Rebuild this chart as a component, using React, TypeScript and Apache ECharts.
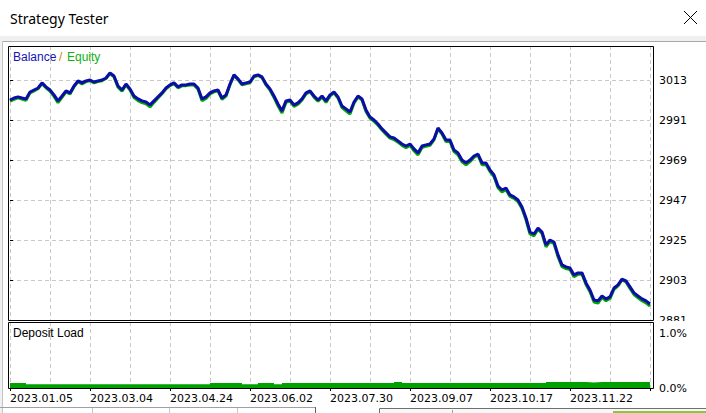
import React, { useEffect, useRef } from 'react';
import * as echarts from 'echarts';

// Balance curve, one value per trade step (x = 0..160)
const balance = [
  3002.0, 3003.1, 3003.7, 3003.1, 3002.6, 3006.4, 3007.5, 3008.6, 3011.4, 3009.2,
  3007.5, 3004.8, 3001.5, 3004.2, 3007.0, 3005.9, 3009.7, 3012.5, 3011.4, 3012.5,
  3013.0, 3011.9, 3012.5, 3013.0, 3014.1, 3016.9, 3015.2, 3009.7, 3007.5, 3010.8,
  3008.1, 3004.2, 3002.6, 3001.5, 3000.9, 2999.3, 3001.5, 3003.7, 3005.9, 3008.6,
  3010.3, 3011.4, 3009.2, 3010.3, 3010.3, 3010.8, 3010.8, 3008.6, 3002.6, 3003.7,
  3005.9, 3007.0, 3007.5, 3003.1, 3004.8, 3010.8, 3015.8, 3013.6, 3010.8, 3011.4,
  3011.9, 3015.2, 3015.8, 3014.7, 3010.8, 3008.1, 3004.2, 2999.8, 2996.0, 3001.5,
  3002.0, 2999.3, 3000.4, 3002.6, 3005.9, 3007.0, 3004.2, 3002.0, 3004.2, 3001.5,
  3004.8, 3006.4, 3003.7, 2998.7, 2997.1, 2995.4, 3000.9, 3004.2, 3002.6, 2996.5,
  2992.7, 2991.0, 2988.8, 2986.1, 2983.9, 2981.7, 2981.1, 2979.5, 2977.8, 2976.7,
  2977.8, 2975.1, 2972.9, 2976.7, 2977.3, 2977.8, 2980.6, 2986.6, 2983.9, 2980.0,
  2980.0, 2974.5, 2972.9, 2969.0, 2967.4, 2969.0, 2971.2, 2972.3, 2967.4, 2967.4,
  2963.5, 2960.8, 2954.7, 2952.5, 2953.6, 2949.8, 2948.7, 2947.0, 2943.2, 2937.1,
  2929.4, 2928.3, 2931.6, 2929.4, 2922.3, 2925.0, 2923.9, 2916.8, 2911.3, 2910.2,
  2909.6, 2905.8, 2906.9, 2906.9, 2901.4, 2897.5, 2892.0, 2891.5, 2894.2, 2892.6,
  2893.7, 2898.6, 2900.3, 2903.5, 2902.5, 2899.2, 2895.9, 2894.2, 2892.6, 2891.5,
  2889.8,
];

// How far equity sits below balance at each step
const equityGap = [
  0.6, 0.7, 0.5, 0.6, 0.8, 0.5, 0.5, 0.4, 0.4, 0.5,
  0.6, 0.8, 1.0, 0.7, 0.5, 0.6, 0.4, 0.4, 0.5, 0.4,
  0.4, 0.5, 0.4, 0.4, 0.3, 0.4, 0.5, 0.7, 0.6, 0.5,
  0.6, 0.8, 0.9, 0.9, 1.0, 1.1, 0.8, 0.6, 0.5, 0.4,
  0.4, 0.4, 0.5, 0.5, 0.4, 0.5, 0.5, 0.6, 1.0, 0.8,
  0.6, 0.5, 0.5, 0.8, 0.7, 0.4, 0.3, 0.4, 0.5, 0.5,
  0.4, 0.4, 0.3, 0.4, 0.5, 0.6, 0.8, 1.0, 1.1, 0.7,
  0.6, 0.8, 0.7, 0.6, 0.5, 0.4, 0.6, 0.7, 0.6, 0.8,
  0.6, 0.5, 0.6, 0.9, 1.0, 1.1, 0.7, 0.5, 0.6, 0.8,
  0.8, 0.7, 0.7, 0.6, 0.7, 0.7, 0.8, 0.7, 0.8, 0.9,
  0.8, 1.0, 1.1, 0.8, 0.7, 0.7, 0.5, 0.4, 0.6, 0.8,
  0.7, 0.9, 1.0, 1.0, 1.1, 0.9, 0.7, 0.7, 1.0, 0.9,
  0.8, 0.9, 1.0, 1.1, 0.9, 0.8, 0.8, 0.8, 0.9, 1.0,
  1.1, 1.0, 0.7, 0.8, 1.1, 0.8, 0.9, 1.0, 1.0, 0.9,
  0.8, 1.0, 0.8, 0.7, 0.9, 1.0, 1.1, 1.2, 0.8, 1.0,
  0.9, 0.7, 0.5, 0.5, 0.6, 0.8, 0.9, 1.0, 1.0, 1.1,
  1.2,
];

// Deposit load (%), one value every 2 steps (x = 0, 2, ..., 160)
const depositLoad = [
  0.09, 0.09, 0.07, 0.07, 0.07, 0.07, 0.07, 0.07, 0.07, 0.07,
  0.07, 0.07, 0.07, 0.07, 0.07, 0.07, 0.07, 0.07, 0.07, 0.07,
  0.07, 0.07, 0.07, 0.07, 0.07, 0.09, 0.09, 0.09, 0.09, 0.07,
  0.07, 0.09, 0.09, 0.07, 0.09, 0.09, 0.09, 0.09, 0.09, 0.09,
  0.09, 0.09, 0.09, 0.09, 0.09, 0.09, 0.09, 0.09, 0.11, 0.09,
  0.09, 0.09, 0.09, 0.09, 0.09, 0.09, 0.09, 0.09, 0.09, 0.09,
  0.09, 0.09, 0.09, 0.09, 0.09, 0.09, 0.09, 0.11, 0.11, 0.11,
  0.11, 0.11, 0.10, 0.11, 0.11, 0.11, 0.11, 0.11, 0.11, 0.11,
  0.11,
];

const dateLabels = [
  '2023.01.05', '2023.03.04', '2023.04.24', '2023.06.02',
  '2023.07.30', '2023.09.07', '2023.10.17', '2023.11.22',
];

const yMin = 2881;
const yStep = 22;
const yMax = 3031.7;
const loadMax = 1.2;

export default function App() {
  const ref = useRef<HTMLDivElement>(null);

  useEffect(() => {
    const chart = echarts.init(ref.current!, null, { renderer: 'svg' });
    const balData = balance.map((v, i) => [i, v]);
    const eqData = balance.map((v, i) => [i, +(v - equityGap[i]).toFixed(2)]);
    const depData = depositLoad.map((v, i) => [i * 2, v]);
    const dash = { color: '#c8c8c8', type: [4, 3] as any, width: 1 };
    const numFont = { fontFamily: 'DejaVu Sans', fontSize: 11, lineHeight: 11, color: '#000' };

    chart.setOption({
      animation: false,
      backgroundColor: '#fff',
      grid: [
        { left: 10, right: 56, top: 46, height: 274 },
        { left: 10, right: 56, top: 322, height: 66 },
      ],
      xAxis: [
        {
          type: 'value', gridIndex: 0, min: 0, max: 160, interval: 20,
          axisLine: { show: false }, axisTick: { show: false }, axisLabel: { show: false },
          splitLine: { show: true, lineStyle: dash },
          minorTick: { show: false, splitNumber: 2 },
          minorSplitLine: { show: true, lineStyle: dash },
        },
        {
          type: 'value', gridIndex: 1, min: 0, max: 160, interval: 20,
          axisLine: { show: false },
          axisTick: { show: true, length: 3, lineStyle: { color: '#000' } },
          axisLabel: {
            ...numFont, align: 'left', margin: 5,
            formatter: (v: number) => dateLabels[Math.round(v / 20)] ?? '',
          },
          splitLine: { show: true, lineStyle: dash },
          minorTick: { show: false, splitNumber: 2 },
          minorSplitLine: { show: true, lineStyle: dash },
        },
      ],
      yAxis: [
        {
          type: 'value', gridIndex: 0, position: 'right', offset: 3,
          min: yMin, max: yMax, interval: yStep,
          axisLine: { show: false },
          axisTick: { show: true, length: 3, lineStyle: { color: '#000' } },
          axisLabel: {
            ...numFont, margin: 6, showMaxLabel: false,
            formatter: (v: number) => (Math.abs((v - yMin) % yStep) < 0.01 ? String(Math.round(v)) : ''),
          },
          splitLine: { show: true, lineStyle: dash },
        },
        {
          type: 'value', gridIndex: 1, position: 'right', offset: 3,
          min: 0, max: loadMax, interval: 1,
          axisLine: { show: false }, axisTick: { show: false },
          axisLabel: {
            ...numFont, margin: 6, showMaxLabel: false,
            formatter: (v: number) => (Math.abs(v - Math.round(v)) < 0.001 ? v.toFixed(1) + '%' : ''),
          },
          splitLine: { show: false },
        },
      ],
      series: [
        {
          name: 'Equity', type: 'line', xAxisIndex: 0, yAxisIndex: 0, data: eqData,
          symbol: 'none', lineStyle: { color: '#00a800', width: 3 }, z: 2,
        },
        {
          name: 'Balance', type: 'line', xAxisIndex: 0, yAxisIndex: 0, data: balData,
          symbol: 'none', lineStyle: { color: '#0c0ca6', width: 3 }, z: 3,
        },
        {
          name: 'Deposit Load', type: 'line', xAxisIndex: 1, yAxisIndex: 1, data: depData,
          symbol: 'none', step: 'end', lineStyle: { width: 0 },
          areaStyle: { color: '#00a000', opacity: 1 }, itemStyle: { color: '#00a000' },
        },
      ],
      graphic: [
        { type: 'rect', shape: { x: 0, y: 36, width: 706, height: 5 }, style: { fill: '#f0f0f0' } },
        { type: 'line', shape: { x1: 0, y1: 41.5, x2: 706, y2: 41.5 }, style: { stroke: '#a8a8a8', lineWidth: 1 } },
        { type: 'rect', shape: { x: 0, y: 41, width: 2, height: 372 }, style: { fill: '#f0f0f0' } },
        { type: 'line', shape: { x1: 2.5, y1: 41, x2: 2.5, y2: 413 }, style: { stroke: '#c4c4c4', lineWidth: 1 } },
        {
          type: 'text', x: 10, y: 18,
          style: { text: 'Strategy Tester', fill: '#000', fontSize: 14, fontFamily: 'Noto Sans', verticalAlign: 'middle', align: 'left' },
        },
        { type: 'line', shape: { x1: 684, y1: 11, x2: 697, y2: 24 }, style: { stroke: '#000', lineWidth: 1 } },
        { type: 'line', shape: { x1: 697, y1: 11, x2: 684, y2: 24 }, style: { stroke: '#000', lineWidth: 1 } },
        { type: 'rect', z: 50, shape: { x: 8.5, y: 46.5, width: 645, height: 274 }, style: { fill: 'none', stroke: '#000', lineWidth: 1 } },
        { type: 'rect', z: 50, shape: { x: 8.5, y: 322.5, width: 645, height: 66 }, style: { fill: 'none', stroke: '#000', lineWidth: 1 } },
        { type: 'rect', z: 60, shape: { x: 654, y: 321, width: 52, height: 4 }, style: { fill: '#fff' } },
        {
          type: 'text', x: 13, y: 57, z: 50,
          style: { text: 'Balance', fill: '#1414b4', fontSize: 12, fontFamily: 'Liberation Sans', verticalAlign: 'middle' },
        },
        {
          type: 'text', x: 59, y: 57, z: 50,
          style: { text: '/', fill: '#d88000', fontSize: 12, fontFamily: 'Liberation Sans', verticalAlign: 'middle' },
        },
        {
          type: 'text', x: 67, y: 57, z: 50,
          style: { text: 'Equity', fill: '#10b010', fontSize: 12, fontFamily: 'Liberation Sans', verticalAlign: 'middle' },
        },
        {
          type: 'text', x: 13, y: 333, z: 50,
          style: { text: 'Deposit Load', fill: '#000', fontSize: 12, fontFamily: 'Liberation Sans', verticalAlign: 'middle' },
        },
        { type: 'line', shape: { x1: 0, y1: 407.5, x2: 315, y2: 407.5 }, style: { stroke: '#a0a0a0', lineWidth: 1 } },
        { type: 'line', shape: { x1: 92.5, y1: 408, x2: 92.5, y2: 413 }, style: { stroke: '#c8c8c8', lineWidth: 1 } },
        { type: 'line', shape: { x1: 169.5, y1: 408, x2: 169.5, y2: 413 }, style: { stroke: '#c8c8c8', lineWidth: 1 } },
        { type: 'line', shape: { x1: 237.5, y1: 408, x2: 237.5, y2: 413 }, style: { stroke: '#c8c8c8', lineWidth: 1 } },
        { type: 'line', shape: { x1: 315.5, y1: 407, x2: 315.5, y2: 413 }, style: { stroke: '#606060', lineWidth: 1 } },
        { type: 'rect', shape: { x: 379.5, y: 408.5, width: 330, height: 8 }, style: { fill: '#f8f8f8', stroke: '#707070', lineWidth: 1 } },
        { type: 'line', shape: { x1: 452.5, y1: 410, x2: 452.5, y2: 413 }, style: { stroke: '#a0a0a0', lineWidth: 1 } },
        { type: 'rect', shape: { x: 613, y: 411, width: 93, height: 2 }, style: { fill: '#8dc63f' } },
      ],
    });
    return () => chart.dispose();
  }, []);

  return <div ref={ref} style={{ position: 'fixed', left: 0, top: 0, width: 706, height: 413 }} />;
}
